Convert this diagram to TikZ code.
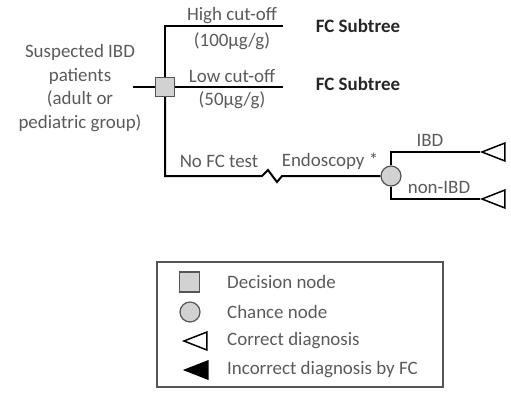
\documentclass[tikz,border=0pt]{standalone}
\usepackage{fontspec}
\setmainfont{Carlito}
\usetikzlibrary{positioning,shapes.geometric}
\definecolor{treeText}{HTML}{5A5A5A}
\definecolor{treeDark}{HTML}{262626}
\definecolor{treeFill}{HTML}{D2D2D2}
\definecolor{treeEdge}{HTML}{555555}

\begin{document}
\begin{tikzpicture}[
  x=1bp, y=-1bp,
  font=\fontsize{19}{23.5}\selectfont,
  branch/.style={line width=2bp, draw=black},
  lbl/.style={text=treeText, inner sep=0pt, align=center},
  subtree/.style={text=treeDark, inner sep=0pt, font=\fontsize{19}{23.5}\selectfont\bfseries},
  decnode/.style={draw=treeEdge, fill=treeFill, line width=1.2bp, minimum size=19bp, inner sep=0pt},
  chancenode/.style={circle, draw=treeEdge, fill=treeFill, line width=1.2bp, minimum size=20bp, inner sep=0pt},
  endnode/.style={isosceles triangle, isosceles triangle stretches, shape border rotate=180,
    draw=black, line width=1.5bp, minimum width=18bp, minimum height=23bp, inner sep=0pt, anchor=apex},
  wrongnode/.style={endnode, fill=black},
  legbox/.style={draw=treeEdge, line width=1.2bp, minimum width=286bp, minimum height=125bp, inner sep=0pt},
  legtext/.style={lbl, anchor=west}
]
\useasboundingbox (0,0) rectangle (511,392);

% tree
\coordinate (start) at (133,87);
\node[decnode] (dec) at (165,87) {};
\coordinate (hiend) at (283,26);
\coordinate (loend) at (283,87);
\coordinate (brk) at (262,176);
\node[chancenode] (chance) at (391,176) {};
\node[endnode] (ibd) at (480,152) {};
\node[endnode] (nonibd) at (480,199) {};

\draw[branch] (start) -- (dec);
\draw[branch] (dec) |- (hiend);
\draw[branch] (dec) -- (loend);
\draw[branch] (dec) |- (brk) -- ++(6,-6) -- ++(9,12) -- ++(5,-6) -- (chance);
\draw[branch] (chance) |- (ibd.apex);
\draw[branch] (chance) |- (nonibd.apex);

% labels
\node[lbl] (patients) at (80,88) {Suspected IBD\\patients\\(adult or\\pediatric group)};
\node[lbl] (hicut) at (232,16) {High cut-off};
\node[lbl] (hival) at (232,41) {(100µg/g)};
\node[lbl] (locut) at (232,76) {Low cut-off};
\node[lbl] (loval) at (232,100) {(50µg/g)};
\node[subtree] (hisub) at (358,26) {FC Subtree};
\node[subtree] (losub) at (358,84) {FC Subtree};
\node[lbl] (nofc) at (219,161) {No FC test};
\node[lbl] (endo) at (330,161) {Endoscopy *};
\node[lbl] (ibdlbl) at (430,140) {IBD};
\node[lbl] (nonlbl) at (439,187) {non-IBD};

% legend
\node[legbox] (legend) at (300,324.5) {};
\node[decnode, minimum size=20bp] (legdec) at (189.5,282) {};
\node[chancenode] (legchance) at (190,312) {};
\node[endnode] (legright) at (182,341) {};
\node[wrongnode] (legwrong) at (183,370) {};
\node[legtext] (txtdec) at (227,282) {Decision node};
\node[legtext] (txtchance) at (227,312) {Chance node};
\node[legtext] (txtright) at (227,341) {Correct diagnosis};
\node[legtext] (txtwrong) at (227,370) {Incorrect diagnosis by FC};
\end{tikzpicture}
\end{document}
